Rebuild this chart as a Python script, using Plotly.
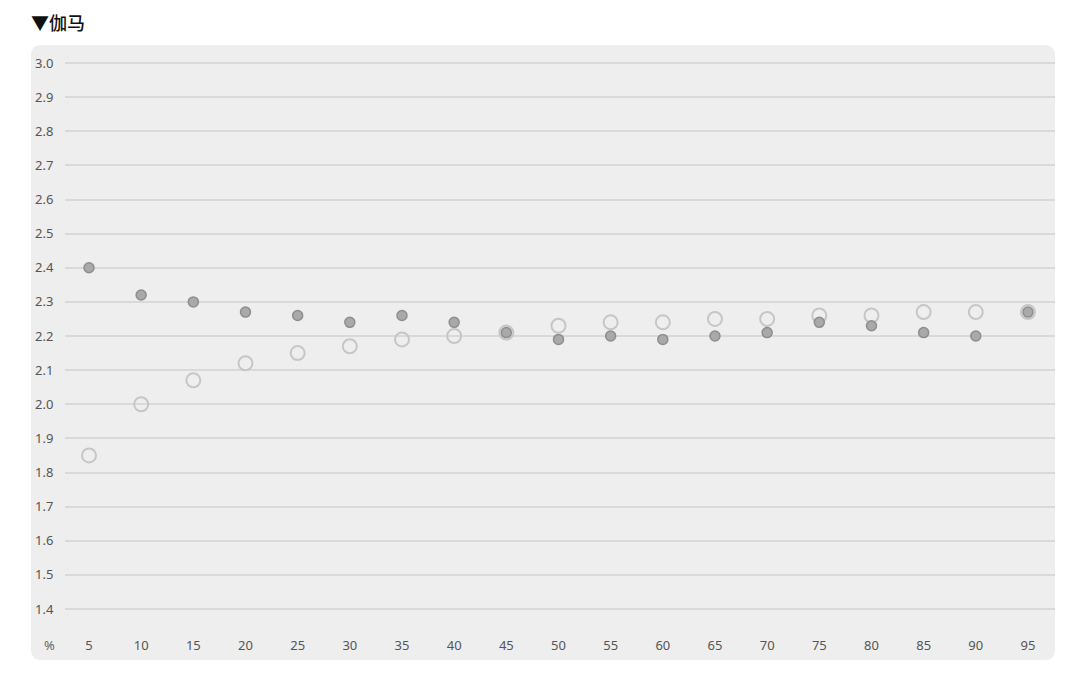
import plotly.graph_objects as go

# data
percent = [5, 10, 15, 20, 25, 30, 35, 40, 45, 50, 55, 60, 65, 70, 75, 80, 85, 90, 95]
gamma_measured = [2.40, 2.32, 2.30, 2.27, 2.26, 2.24, 2.26, 2.24, 2.21, 2.19,
                  2.20, 2.19, 2.20, 2.21, 2.24, 2.23, 2.21, 2.20, 2.27]
gamma_reference = [1.85, 2.00, 2.07, 2.12, 2.15, 2.17, 2.19, 2.20, 2.21, 2.23,
                   2.24, 2.24, 2.25, 2.25, 2.26, 2.26, 2.27, 2.27, 2.27]
y_ticks = [1.4, 1.5, 1.6, 1.7, 1.8, 1.9, 2.0, 2.1, 2.2, 2.3, 2.4, 2.5, 2.6, 2.7, 2.8, 2.9, 3.0]
title_text = "▼伽马"

# the page adds an 8px body margin, so everything is shifted back by OFF
OFF = 8
W, H = 1080, 674
L, R, T = 65 - OFF, 25 + OFF, 55 - OFF
B = H - (630 - OFF)
pw, ph = W - L - R, H - T - B
bottom_px = H - B  # pixel y of the plot bottom inside the figure


def px_x(x):
    return (x - OFF - L) / pw


def px_y(y):
    return (bottom_px - (y - OFF)) / ph


fig = go.Figure()
fig.add_trace(go.Scatter(x=percent, y=gamma_reference, mode="markers",
                         marker=dict(size=14, color="rgba(238,238,238,0)",
                                     line=dict(color="#c6c6c6", width=2)),
                         cliponaxis=False, hoverinfo="x+y"))
fig.add_trace(go.Scatter(x=percent, y=gamma_measured, mode="markers",
                         marker=dict(size=10, color="#a9a9a9",
                                     line=dict(color="#8e8e8e", width=1.5)),
                         cliponaxis=False, hoverinfo="x+y"))

# rounded grey panel behind the plot, in paper units
x0, x1 = px_x(31), px_x(1055)
y1, y0 = px_y(45), px_y(660)
rx, ry = 10 / pw, 10 / ph
path = (f"M {x0+rx},{y0} L {x1-rx},{y0} Q {x1},{y0} {x1},{y0+ry} "
        f"L {x1},{y1-ry} Q {x1},{y1} {x1-rx},{y1} "
        f"L {x0+rx},{y1} Q {x0},{y1} {x0},{y1-ry} "
        f"L {x0},{y0+ry} Q {x0},{y0} {x0+rx},{y0} Z")
fig.add_shape(type="path", path=path, xref="paper", yref="paper",
              fillcolor="#eeeeee", line=dict(width=0), layer="below")

fig.add_annotation(text=title_text, xref="paper", yref="paper",
                   x=px_x(29), y=px_y(22), xanchor="left", yanchor="middle",
                   showarrow=False,
                   font=dict(family="Noto Sans CJK SC", size=18, color="#111111",
                             weight=500))
fig.add_annotation(text="%", xref="paper", yref="paper",
                   x=px_x(49), y=px_y(645), xanchor="center", yanchor="middle",
                   showarrow=False,
                   font=dict(family="Noto Sans", size=13, color="#666666"))

fig.update_layout(
    width=W, height=H, autosize=False,
    margin=dict(l=L, r=R, t=T, b=B),
    paper_bgcolor="white", plot_bgcolor="rgba(0,0,0,0)",
    showlegend=False,
    font=dict(family="Noto Sans", size=13, color="#555555"),
)
fig.update_xaxes(range=[2.70, 97.59], tickvals=percent, showgrid=False, zeroline=False,
                 showline=False, ticks="outside", ticklen=3, tickcolor="rgba(0,0,0,0)",
                 tickfont=dict(size=13, color="#555555"))
fig.update_yaxes(range=[1.4 - 21 / 341.25, 3.0 + 8 / 341.25], tickvals=y_ticks,
                 tickformat=".1f", showgrid=True, gridcolor="#d9d9d9", gridwidth=2,
                 zeroline=False, showline=False, ticks="outside", ticklen=8,
                 tickcolor="rgba(0,0,0,0)", tickfont=dict(size=13, color="#555555"))

fig.write_html("out.html")
